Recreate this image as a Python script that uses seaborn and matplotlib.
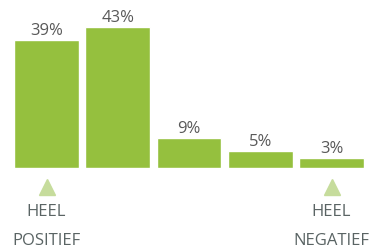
import pandas as pd
import matplotlib.pyplot as plt
import seaborn as sns

categories = ["1", "2", "3", "4", "5"]
values = [39, 43, 9, 5, 3]
end_labels = {0: ["HEEL", "POSITIEF"], 4: ["HEEL", "NEGATIEF"]}

df = pd.DataFrame({"score": categories, "pct": values})

sns.set_style("white")
plt.rcParams['font.family'] = ['Open Sans', 'DejaVu Sans']

fig = plt.figure(figsize=(3.7, 2.52), dpi=100)
ax = fig.add_axes([0, 0.3345, 1, 0.6655])

sns.barplot(x="score", y="pct", data=df, color="#95c03e", saturation=1,
            width=0.91, ax=ax)
ax.bar_label(ax.containers[0], fmt='%d%%', padding=1, fontsize=12,
             color="#595959")

ax.set_xlim(-0.6526, 4.54)
ax.set_ylim(0, 51.3)
ax.set_xlabel("")
ax.set_ylabel("")
ax.set_xticks([])
ax.set_yticks([])
sns.despine(ax=ax, left=True, bottom=True)

for i, lines in end_labels.items():
    ax.plot(i, -5.75, marker="^", markersize=11.5, color="#c6dc9c",
            clip_on=False, linestyle="none")
    ax.text(i, -13.5, lines[0], ha="center", va="center", fontsize=12,
            color="#5a6464")
    ax.text(i, -22.3, lines[1], ha="center", va="center", fontsize=12,
            color="#5a6464")

plt.savefig("out.png", dpi=100)
